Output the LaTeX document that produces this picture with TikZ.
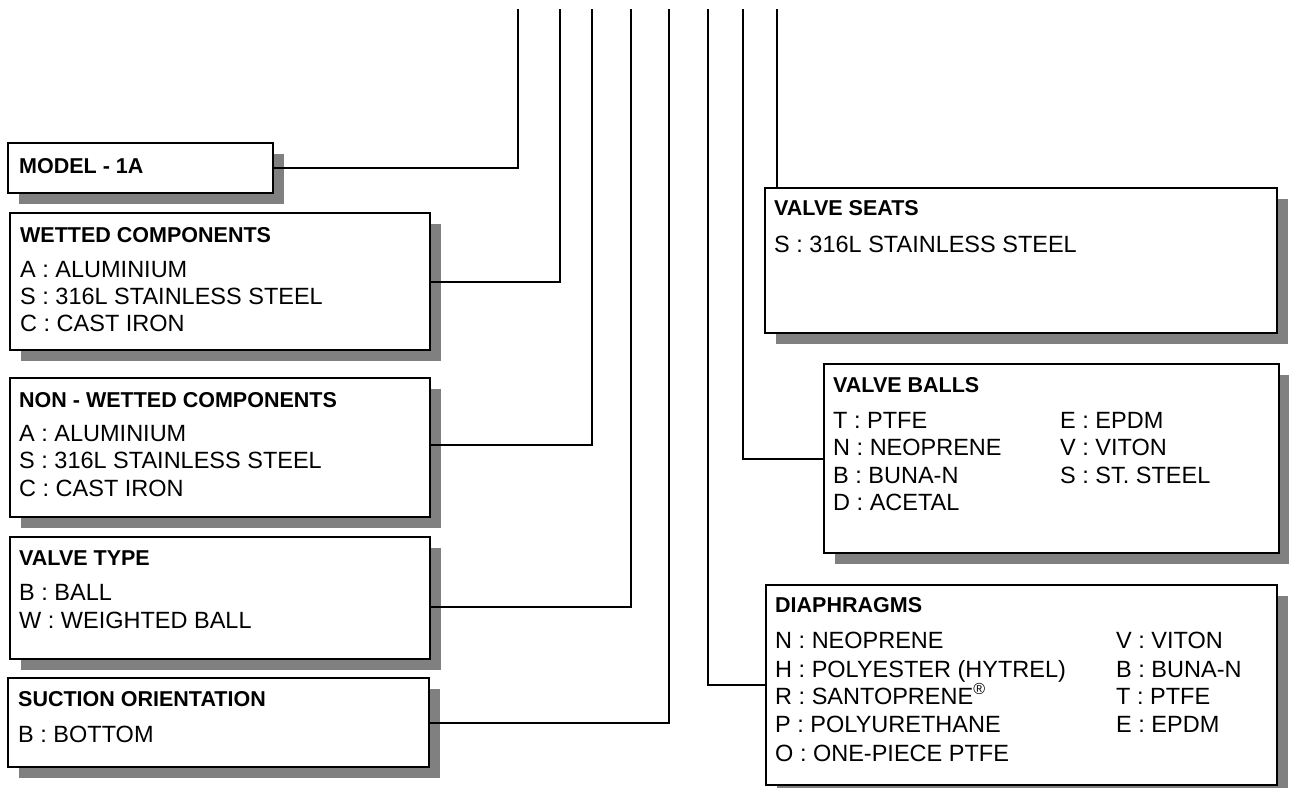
\documentclass[tikz,border=0pt]{standalone}
\usepackage{fontspec}
\setmainfont{Liberation Sans}
\definecolor{shadowgray}{HTML}{808080}
\newcommand{\mkbox}[5]{%
  \node[shadowbox, minimum width=#4pt, minimum height=#5pt] (#1s) at (#2+11,#3+11) {};
  \node[pbox, minimum width=#4pt, minimum height=#5pt] (#1) at (#2,#3) {};}
\tikzset{
  pbox/.style={draw=black, line width=2.1pt, fill=white, inner sep=0pt, outer sep=0pt, anchor=north west},
  shadowbox/.style={fill=shadowgray, draw=none, inner sep=0pt, anchor=north west},
  ttl/.style={anchor=base west, inner sep=0pt, font=\fontsize{21.5}{24}\selectfont\bfseries},
  itm/.style={anchor=base west, inner sep=0pt, font=\fontsize{23.5}{26}\selectfont},
  conn/.style={line width=2pt},
}
\begin{document}
\begin{tikzpicture}[x=1pt,y=-1pt]
\useasboundingbox (0,0) rectangle (1289,787);
% top coordinates
\coordinate (c1) at (518,9);
\coordinate (c2) at (560,9);
\coordinate (c3) at (592,9);
\coordinate (c4) at (631,9);
\coordinate (c5) at (669,9);
\coordinate (c6) at (708,9);
\coordinate (c7) at (743,9);
\coordinate (c8) at (777,9);
% boxes
\mkbox{model}{8}{143}{265}{50}
\mkbox{wet}{10}{213}{420}{137}
\mkbox{nwet}{10}{378}{420}{139}
\mkbox{vt}{10}{537}{420}{122}
\mkbox{so}{8}{678}{421}{89}
\mkbox{vs}{765}{188}{512}{145}
\mkbox{vb}{824}{364}{455}{189}
\mkbox{di}{766}{585}{511}{200}
% connectors
\draw[conn] (model.east) -| (c1);
\draw[conn] (wet.east) -| (c2);
\draw[conn] ([yshift=2.5pt]nwet.east) -| (c3);
\draw[conn] ([yshift=-9pt]vt.east) -| (c4);
\draw[conn] (so.east) -| (c5);
\draw[conn] (di.west) -| (c6);
\draw[conn] (vb.west) -| (c7);
\draw[conn] (c8 |- vs.north) -- (c8);
% texts
\node[ttl] (t1) at (19,173) {MODEL - 1A};
\node[ttl] (t2) at (20,242) {WETTED COMPONENTS};
\node[itm] (t2a) at (20,277) {A : ALUMINIUM};
\node[itm] (t2b) at (20,304) {S : 316L STAINLESS STEEL};
\node[itm] (t2c) at (20,331) {C : CAST IRON};
\node[ttl] (t3) at (19,407) {NON - WETTED COMPONENTS};
\node[itm] (t3a) at (19,441) {A : ALUMINIUM};
\node[itm] (t3b) at (19,468) {S : 316L STAINLESS STEEL};
\node[itm] (t3c) at (19,496) {C : CAST IRON};
\node[ttl] (t4) at (19,565) {VALVE TYPE};
\node[itm] (t4a) at (19,600) {B : BALL};
\node[itm] (t4b) at (19,628) {W : WEIGHTED BALL};
\node[ttl] (t5) at (18,706) {SUCTION ORIENTATION};
\node[itm] (t5a) at (18,742) {B : BOTTOM};
\node[ttl] (t6) at (774,215) {VALVE SEATS};
\node[itm] (t6a) at (774,252) {S : 316L STAINLESS STEEL};
\node[ttl] (t7) at (833,392) {VALVE BALLS};
\node[itm] (t7a) at (833,428) {T : PTFE};
\node[itm] (t7b) at (833,455) {N : NEOPRENE};
\node[itm] (t7c) at (833,483) {B : BUNA-N};
\node[itm] (t7d) at (833,510) {D : ACETAL};
\node[itm] (t7e) at (1060,428) {E : EPDM};
\node[itm] (t7f) at (1060,455) {V : VITON};
\node[itm] (t7g) at (1060,483) {S : ST. STEEL};
\node[ttl] (t8) at (775,612) {DIAPHRAGMS};
\node[itm] (t8a) at (775,648) {N : NEOPRENE};
\node[itm] (t8b) at (775,677) {H : POLYESTER (HYTREL)};
\node[itm] (t8c) at (775,704) {R : SANTOPRENE\raisebox{10pt}{\fontsize{16}{16}\selectfont ®}};
\node[itm] (t8d) at (775,732) {P : POLYURETHANE};
\node[itm] (t8e) at (775,761) {O : ONE-PIECE PTFE};
\node[itm] (t8f) at (1116,648) {V : VITON};
\node[itm] (t8g) at (1116,677) {B : BUNA-N};
\node[itm] (t8h) at (1116,704) {T : PTFE};
\node[itm] (t8i) at (1116,732) {E : EPDM};
\end{tikzpicture}
\end{document}
